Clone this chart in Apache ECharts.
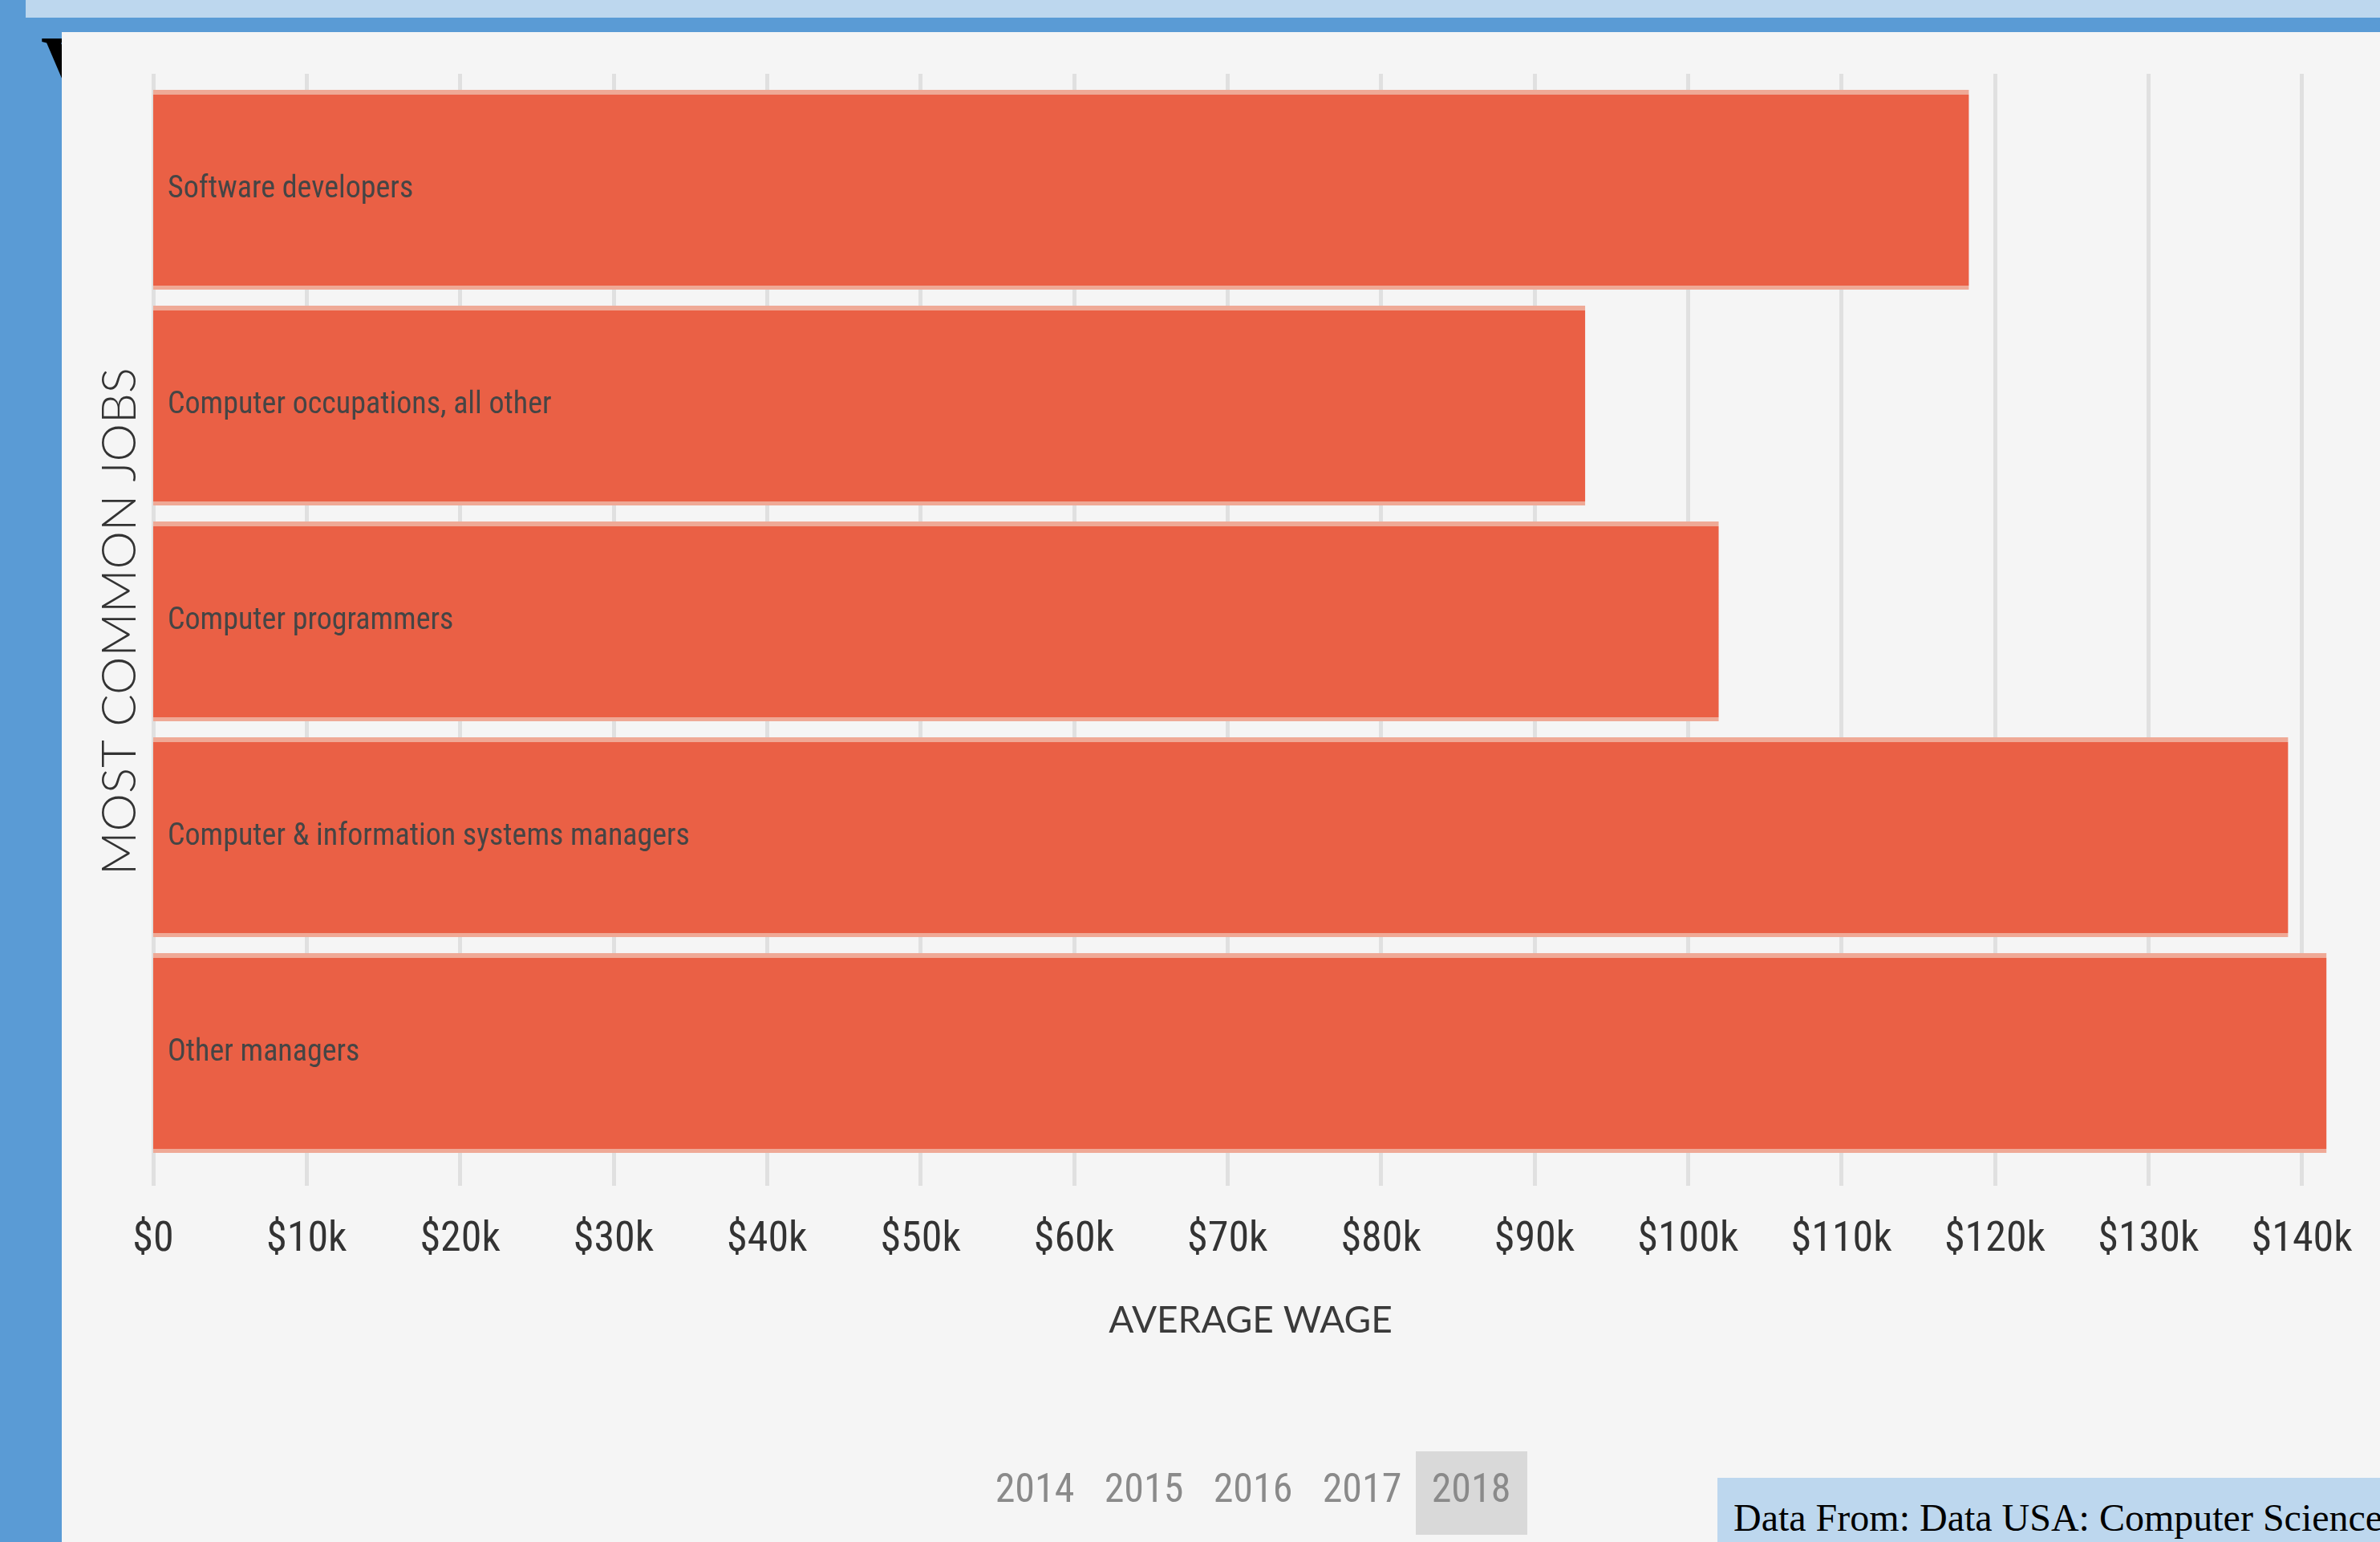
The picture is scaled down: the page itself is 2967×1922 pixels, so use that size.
<!DOCTYPE html>
<html>
<head>
<meta charset="utf-8">
<title>Most common jobs - average wage</title>
<script src="https://cdn.jsdelivr.net/npm/echarts@6/dist/echarts.min.js"></script>
<style>
  html, body { margin: 0; padding: 0; }
  body { width: 2967px; height: 1922px; background: #5a9bd5; position: relative; overflow: hidden; }
  #band { position: absolute; left: 32px; top: 0; right: 0; height: 22px; background: #bdd7ee; }
  #letter { position: absolute; left: 51px; top: 28px; font: bold 110px/110px 'Liberation Serif', 'Times New Roman', serif; color: #000; }
  #panel { position: absolute; left: 77px; top: 40px; right: 0; bottom: 0; background: #f5f5f5; }
  #chart { position: absolute; left: 0; top: 0; width: 2967px; height: 1922px; }
  #source {
    position: absolute; left: 2141px; top: 1842px; right: 0; bottom: 0;
    background: #bdd7ee; padding: 26px 0 0 20px; box-sizing: border-box;
    font: 48px/48px 'Liberation Serif', 'Times New Roman', serif; color: #000;
    white-space: nowrap; overflow: hidden;
  }
</style>
</head>
<body>
<div id="band"></div>
<div id="letter">V</div>
<div id="panel"></div>
<div id="chart"></div>
<div id="source">Data From: Data USA: Computer Science</div>
<script>
// data (2018 view)
const jobs = [
  'Software developers',
  'Computer occupations, all other',
  'Computer programmers',
  'Computer & information systems managers',
  'Other managers'
]
const avgWage = [118300, 93300, 102000, 139100, 141600]

const wageTicks = [0, 10000, 20000, 30000, 40000, 50000, 60000, 70000,
  80000, 90000, 100000, 110000, 120000, 130000, 140000]
const wageTickLabels = ['$0', '$10k', '$20k', '$30k', '$40k', '$50k', '$60k', '$70k',
  '$80k', '$90k', '$100k', '$110k', '$120k', '$130k', '$140k']

const years = ['2014', '2015', '2016', '2017', '2018']
const activeYear = '2018'

const NARROW = "'Liberation Sans Narrow', 'Roboto Condensed', 'DejaVu Sans Condensed', Roboto, sans-serif"
const GRID_GREY = '#e0e0e0'

// one grey per tick, last one hidden in case the axis end gets its own line
const splitColors = wageTicks.map(() => GRID_GREY).concat(['rgba(0,0,0,0)'])

const chart = echarts.init(document.getElementById('chart'))

// year switcher under the chart (2018 selected)
const yearCenterX = 1562
const yearStep = 136
const yearY = 1859
const yearGraphics = []
years.forEach((y, i) => {
  const cx = yearCenterX + (i - (years.length - 1) / 2) * yearStep
  if (y === activeYear) {
    yearGraphics.push({
      type: 'rect', silent: true,
      shape: { x: cx - 69, y: 1809, width: 139, height: 104 },
      style: { fill: '#d9d9d9' }
    })
  }
  yearGraphics.push({
    type: 'text', silent: true, x: cx, y: yearY,
    style: {
      text: y, fill: '#8a8a8a', font: '50px ' + NARROW,
      textAlign: 'center', textVerticalAlign: 'middle', align: 'center', verticalAlign: 'middle'
    }
  })
})

chart.setOption({
  backgroundColor: 'transparent',
  animation: false,
  grid: { left: 191, right: 40, top: 102, bottom: 475, containLabel: false, outerBoundsMode: 'none' },
  xAxis: [
    {
      type: 'value', min: 0, max: 143000, interval: 10000, position: 'bottom',
      axisLine: { show: false },
      axisTick: { show: true, customValues: wageTicks, length: 31, lineStyle: { color: GRID_GREY, width: 5 } },
      splitLine: { show: true, lineStyle: { color: splitColors, width: 5 } },
      axisLabel: {
        customValues: wageTicks,
        formatter: v => wageTickLabels[wageTicks.indexOf(v)] || '',
        margin: 73, fontSize: 52, color: '#333', fontFamily: NARROW
      },
      name: 'AVERAGE WAGE', nameLocation: 'middle', nameGap: 176,
      nameTextStyle: { fontFamily: 'Lato, "Open Sans", sans-serif', fontSize: 46, color: '#3a3a3a' }
    },
    {
      type: 'value', min: 0, max: 143000, interval: 10000, position: 'top',
      axisLine: { show: false },
      axisTick: { show: true, customValues: wageTicks, length: 10, lineStyle: { color: GRID_GREY, width: 5 } },
      axisLabel: { show: false },
      splitLine: { show: false }
    }
  ],
  yAxis: {
    type: 'category', data: jobs, inverse: true,
    axisLine: { show: false }, axisTick: { show: false }, axisLabel: { show: false },
    splitLine: { show: false },
    name: 'MOST COMMON JOBS', nameLocation: 'middle', nameRotate: 90, nameGap: 11,
    nameTextStyle: { fontFamily: 'Lato, "Open Sans", sans-serif', fontWeight: 300, fontSize: 60, color: '#333' }
  },
  series: [{
    type: 'bar',
    xAxisIndex: 0,
    data: avgWage,
    barWidth: 249,
    itemStyle: {
      // pale strip along top and bottom edge of each bar
      color: {
        type: 'linear', x: 0, y: 0, x2: 0, y2: 1,
        colorStops: [
          { offset: 0, color: '#efa996' }, { offset: 0.024, color: '#efa996' },
          { offset: 0.024, color: '#ea6045' }, { offset: 0.98, color: '#ea6045' },
          { offset: 0.98, color: '#efa996' }, { offset: 1, color: '#efa996' }
        ]
      }
    },
    label: {
      show: true, position: 'insideLeft', distance: 18, formatter: '{b}',
      color: '#454545', fontSize: 38, fontFamily: NARROW
    },
    silent: true
  }],
  graphic: yearGraphics
})
</script>
</body>
</html>
